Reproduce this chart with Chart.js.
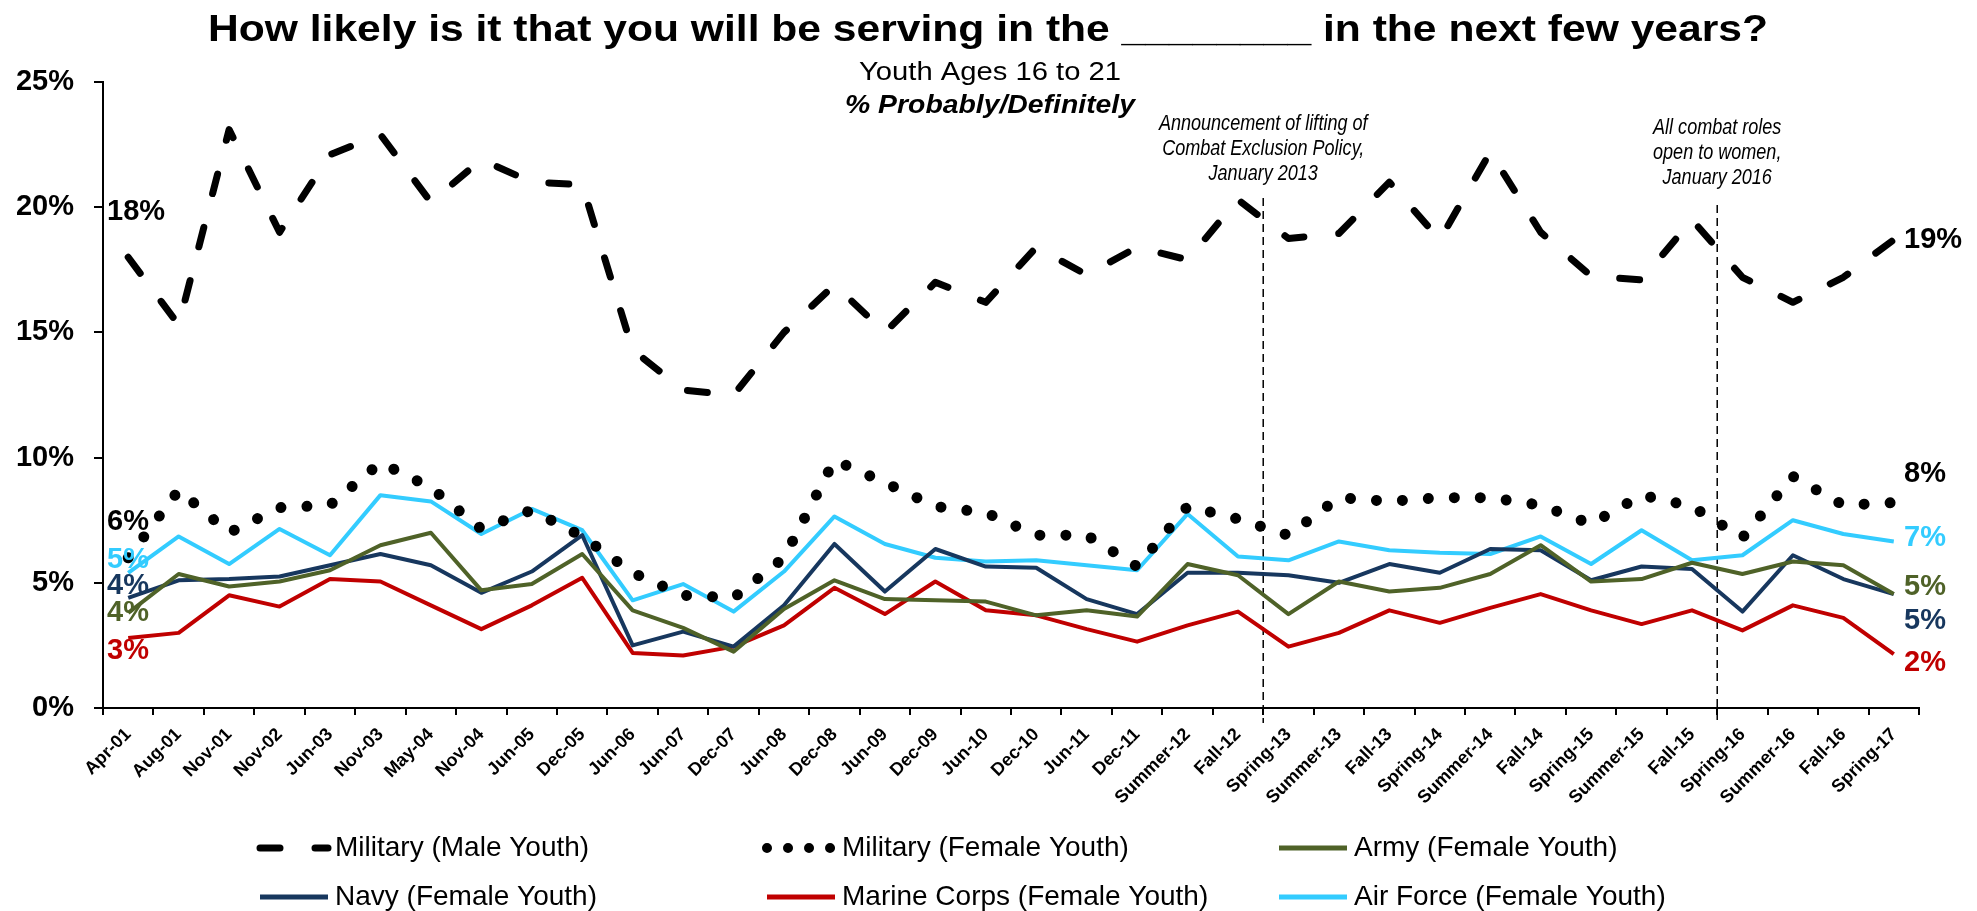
<!DOCTYPE html>
<html>
<head>
<meta charset="utf-8">
<script src="https://cdn.jsdelivr.net/npm/chart.js@4.4.0/dist/chart.umd.min.js"></script>
<style>
html, body { margin: 0; padding: 0; background: #fff; }
#wrap { width: 1977px; height: 911px; position: relative; }
</style>
</head>
<body>
<div id="wrap"><canvas id="myChart"></canvas></div>
<script>
const labels = ["Apr-01", "Aug-01", "Nov-01", "Nov-02", "Jun-03", "Nov-03", "May-04", "Nov-04", "Jun-05", "Dec-05",
  "Jun-06", "Jun-07", "Dec-07", "Jun-08", "Dec-08", "Jun-09", "Dec-09", "Jun-10", "Dec-10", "Jun-11", "Dec-11",
  "Summer-12", "Fall-12", "Spring-13", "Summer-13", "Fall-13", "Spring-14", "Summer-14", "Fall-14", "Spring-15",
  "Summer-15", "Fall-15", "Spring-16", "Summer-16", "Fall-16", "Spring-17"];

const militaryMale = [18.0, 15.3, 23.1, 19.0, 22.1, 22.9, 20.2, 21.9, 21.0, 20.9, 14.3, 12.7, 12.5, 15.0, 16.9, 15.0,
  17.0, 16.2, 18.4, 17.3, 18.4, 17.9, 20.3, 18.75, 18.95, 21.0, 18.7, 22.2, 19.0, 17.25, 17.1, 19.5, 17.2, 16.2, 17.2, 18.7];
const militaryFemale = [6.0, 8.7, 7.0, 8.0, 8.1, 9.8, 8.8, 7.15, 7.9, 6.85, 5.4, 4.5, 4.4, 6.0, 9.9, 9.0, 8.05, 7.8,
  6.9, 6.9, 5.65, 8.05, 7.55, 6.9, 8.4, 8.25, 8.4, 8.4, 8.1, 7.35, 8.5, 8.05, 6.8, 9.25, 8.1, 8.2];
const army = [3.8, 5.35, 4.85, 5.05, 5.5, 6.5, 7.0, 4.7, 4.95, 6.15, 3.9, 3.2, 2.25, 3.95, 5.1, 4.35, 4.3, 4.25, 3.7,
  3.9, 3.65, 5.75, 5.3, 3.75, 5.05, 4.65, 4.8, 5.35, 6.5, 5.05, 5.15, 5.8, 5.35, 5.85, 5.7, 4.55];
const navy = [4.4, 5.1, 5.15, 5.25, 5.7, 6.15, 5.7, 4.6, 5.45, 6.9, 2.5, 3.05, 2.45, 4.1, 6.55, 4.65, 6.35, 5.65, 5.6,
  4.35, 3.75, 5.4, 5.4, 5.3, 5.0, 5.75, 5.4, 6.35, 6.3, 5.1, 5.65, 5.55, 3.85, 6.1, 5.15, 4.55];
const marines = [2.8, 3.0, 4.5, 4.05, 5.15, 5.05, 4.1, 3.15, 4.1, 5.2, 2.2, 2.1, 2.45, 3.3, 4.8, 3.75, 5.05, 3.9, 3.7,
  3.15, 2.65, 3.3, 3.85, 2.45, 3.0, 3.9, 3.4, 4.0, 4.55, 3.9, 3.35, 3.9, 3.1, 4.1, 3.6, 2.15];
const airForce = [5.4, 6.85, 5.75, 7.15, 6.1, 8.5, 8.25, 6.95, 7.95, 7.1, 4.3, 4.95, 3.85, 5.45, 7.65, 6.55, 6.0, 5.85,
  5.9, 5.7, 5.5, 7.75, 6.05, 5.9, 6.65, 6.3, 6.2, 6.15, 6.85, 5.75, 7.1, 5.9, 6.1, 7.5, 6.95, 6.65];

const seriesNames = ["Military (Male Youth)", "Military (Female Youth)", "Army (Female Youth)",
  "Navy (Female Youth)", "Marine Corps (Female Youth)", "Air Force (Female Youth)"];
const startLabels = ["18%", "6%", "4%", "4%", "3%", "5%"];
const endLabels = ["19%", "8%", "5%", "5%", "2%", "7%"];
const events = [
  { before: "Fall-12", lines: ["Announcement of lifting of", "Combat Exclusion Policy,", "January 2013"] },
  { before: "Fall-15", lines: ["All combat roles", "open to women,", "January 2016"] }
];

const BLACK = '#000000', GREEN = '#4F6228', NAVY = '#17375E', RED = '#C00000', CYAN = '#33CCFF';
const FONT = '"Liberation Sans", Arial, sans-serif';
Chart.defaults.font.family = FONT;
Chart.defaults.color = '#000';

// text positions (pixels) for the hand-placed labels
const startY = [212, 522, 613, 586, 651, 560];
const endY = [240, 474, 587, 621, 663, 538];
const eventTop = [198, 205];
const eventTextY = [[130, 155, 180], [134, 159, 184]];

function line(label, data, color, width, dash) {
  return {
    label: label, data: data, borderColor: color, backgroundColor: color,
    borderWidth: width, borderDash: dash || [], borderCapStyle: dash ? 'round' : 'butt',
    borderJoinStyle: 'round', pointRadius: 0, tension: 0, fill: false
  };
}

const datasets = [
  line(seriesNames[0], militaryMale, BLACK, 7, [20, 35]),
  line(seriesNames[1], militaryFemale, BLACK, 11, [0.01, 26]),
  line(seriesNames[2], army, GREEN, 4),
  line(seriesNames[3], navy, NAVY, 4),
  line(seriesNames[4], marines, RED, 4),
  line(seriesNames[5], airForce, CYAN, 4)
];

// draw text stretched to a given width, centred on cx
function wideText(c, text, cx, y, width) {
  const w = c.measureText(text).width;
  c.save();
  c.translate(cx, y);
  c.scale(width / w, 1);
  c.textAlign = 'center';
  c.fillText(text, 0, 0);
  c.restore();
}

const extras = {
  id: 'extras',
  beforeDatasetsDraw(chart) {
    const c = chart.ctx, x = chart.scales.x;
    c.save();
    c.strokeStyle = '#000';
    c.lineWidth = 1.5;
    c.setLineDash([8, 5]);
    events.forEach((ev, k) => {
      const i = labels.indexOf(ev.before);
      const px = (x.getPixelForValue(i) + x.getPixelForValue(i + 1)) / 2;
      c.beginPath();
      c.moveTo(px, eventTop[k]);
      c.lineTo(px, chart.chartArea.bottom + 15);
      c.stroke();
    });
    c.restore();
  },
  afterDraw(chart) {
    const c = chart.ctx, x = chart.scales.x, area = chart.chartArea;
    c.save();
    c.fillStyle = '#000';
    c.textBaseline = 'alphabetic';
    c.font = 'bold 37px ' + FONT;
    wideText(c, 'How likely is it that you will be serving in the ________ in the next few years?', 988, 41, 1560);
    c.font = '26px ' + FONT;
    wideText(c, 'Youth Ages 16 to 21', 990, 80, 262);
    c.font = 'italic bold 26px ' + FONT;
    wideText(c, '% Probably/Definitely', 990, 113, 290);

    // event notes, narrow italic
    c.font = 'italic 22px ' + FONT;
    c.textAlign = 'center';
    events.forEach((ev, k) => {
      const i = labels.indexOf(ev.before);
      const px = (x.getPixelForValue(i) + x.getPixelForValue(i + 1)) / 2;
      ev.lines.forEach((t, j) => {
        c.save();
        c.translate(px, eventTextY[k][j]);
        c.scale(0.82, 1);
        c.fillText(t, 0, 0);
        c.restore();
      });
    });

    // start / end value labels
    c.font = 'bold 29px ' + FONT;
    c.textBaseline = 'middle';
    c.textAlign = 'left';
    datasets.forEach((ds, k) => {
      c.fillStyle = ds.borderColor;
      c.fillText(startLabels[k], area.left + 4, startY[k]);
      c.fillText(endLabels[k], area.right - 15, endY[k]);
    });

    // legend
    const cols = [255, 762, 1274], rows = [848, 897];
    c.font = '28px ' + FONT;
    datasets.forEach((ds, k) => {
      const sx = cols[k % 3], sy = rows[Math.floor(k / 3)];
      c.save();
      c.strokeStyle = ds.borderColor;
      if (k === 0) { c.setLineDash([20, 35]); c.lineCap = 'round'; c.lineWidth = 7; }
      else if (k === 1) { c.setLineDash([0.01, 21]); c.lineCap = 'round'; c.lineWidth = 10; }
      else { c.lineWidth = 5; }
      c.beginPath();
      c.moveTo(sx + 5, sy);
      c.lineTo(sx + 73, sy);
      c.stroke();
      c.restore();
      c.fillStyle = '#000';
      c.fillText(ds.label, sx + 80, sy);
    });
    c.restore();
  }
};

const ctx = document.getElementById('myChart').getContext('2d');
const chart = new Chart(ctx, {
  type: 'line',
  data: { labels: labels, datasets: datasets },
  options: {
    responsive: true,
    maintainAspectRatio: false,
    animation: false,
    devicePixelRatio: 1,
    layout: { padding: { left: 0, right: 58, top: 82, bottom: 0 } },
    plugins: { legend: { display: false }, title: { display: false }, tooltip: { enabled: false } },
    scales: {
      x: {
        offset: true,
        grid: { drawOnChartArea: false, offset: true, tickLength: 7, color: '#000', lineWidth: 2 },
        border: { color: '#000', width: 2 },
        ticks: { color: '#000', font: { size: 18, weight: 'bold' }, minRotation: 45, maxRotation: 45, autoSkip: false, padding: 9 },
        afterFit: s => { s.height = 203; }
      },
      y: {
        min: 0, max: 25,
        grid: { drawOnChartArea: false, tickLength: 9, color: '#000', lineWidth: 2 },
        border: { color: '#000', width: 2 },
        ticks: { stepSize: 5, color: '#000', font: { size: 29, weight: 'bold' }, padding: 20, callback: v => v + '%' },
        afterFit: s => { s.width = 103; }
      }
    }
  },
  plugins: [extras]
});
</script>
</body>
</html>
